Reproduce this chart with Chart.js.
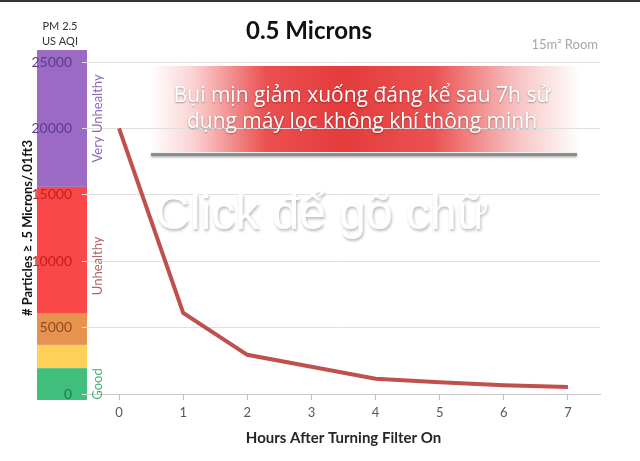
<!DOCTYPE html>
<html>
<head>
<meta charset="utf-8">
<script src="https://cdn.jsdelivr.net/npm/chart.js@4.4.1/dist/chart.umd.min.js"></script>
<style>
  html, body { margin: 0; padding: 0; background: #fff; }
  #wrap { width: 640px; height: 461px; position: relative; }
</style>
</head>
<body>
<div id="wrap"><canvas id="pmChart"></canvas></div>
<script>
// data
const hours = ['0', '1', '2', '3', '4', '5', '6', '7'];
const particles = [20000, 6100, 2950, 2050, 1150, 880, 660, 530];
const yTicks = [0, 5000, 10000, 15000, 20000, 25000];

// AQI colour bands on the left (edges in particle counts)
const aqiEdges = [-450, 1950, 3700, 6100, 15600, 25900];
const aqiColors = ['#3fbf7b', '#fdd157', '#e8924f', '#fa4747', '#9a6ac5'];
const aqiNames = ['Good', 'Unhealthy', 'Very Unhealthy'];
const aqiNameSpan = [[0, 1], [2, 4], [4, 5]];   // band edge indexes covered by each name
const aqiNameColors = ['#45b474', '#b5675f', '#8d68b8'];
const tickColors = ['#1f7f48', '#8e4c1c', '#c61f1f', '#c61f1f', '#5f3b8f', '#5f3b8f'];

const bannerLines = ['Bụi mịn giảm xuống đáng kể sau 7h sử', 'dụng máy lọc không khí thông minh'];

const FONT = 'Lato, "Open Sans", sans-serif';

const decorPlugin = {
    id: 'decor',
    beforeDraw(chart) {
        const { ctx, chartArea } = chart;
        const y = chart.scales.y;
        ctx.save();
        // dark strip at very top
        ctx.fillStyle = '#333';
        ctx.fillRect(0, 0, chart.width, 2);

        // AQI bands
        const bx = chartArea.left - 50;
        for (let i = 0; i < aqiColors.length; i++) {
            const top = y.getPixelForValue(aqiEdges[i + 1]);
            const bot = y.getPixelForValue(aqiEdges[i]);
            ctx.fillStyle = aqiColors[i];
            ctx.fillRect(bx, top, 50, bot - top);
        }

        // red banner
        const l = 150, r = 580, t = 66, b = 152;
        const g = ctx.createLinearGradient(l, 0, r, 0);
        g.addColorStop(0, 'rgba(255,255,255,1)');
        g.addColorStop(0.1, '#fbd3d3');
        g.addColorStop(0.27, '#eb5050');
        g.addColorStop(0.45, '#e53b3b');
        g.addColorStop(0.66, '#eb5252');
        g.addColorStop(0.86, '#f8c6c6');
        g.addColorStop(1, 'rgba(255,255,255,1)');
        ctx.fillStyle = g;
        ctx.fillRect(l, t, r - l, b - t);
        ctx.shadowColor = 'rgba(60,60,60,0.7)';
        ctx.shadowBlur = 3;
        ctx.shadowOffsetY = 1;
        ctx.fillStyle = 'rgba(120,120,120,0.75)';
        ctx.fillRect(l + 1, b + 1, r - l - 4, 3);
        ctx.restore();
    },
    afterDraw(chart) {
        const { ctx, chartArea } = chart;
        const y = chart.scales.y;
        ctx.save();

        // band names, rotated
        ctx.textAlign = 'center';
        ctx.textBaseline = 'middle';
        ctx.font = '13px ' + FONT;
        aqiNames.forEach((name, i) => {
            const [a, b] = aqiNameSpan[i];
            const cy = (y.getPixelForValue(aqiEdges[a]) + y.getPixelForValue(aqiEdges[b])) / 2;
            ctx.save();
            ctx.translate(chartArea.left + 11, cy);
            ctx.rotate(-Math.PI / 2);
            ctx.fillStyle = aqiNameColors[i];
            ctx.fillText(name, 0, 0);
            ctx.restore();
        });

        // title
        ctx.fillStyle = '#111';
        ctx.font = 'bold 24px ' + FONT;
        ctx.fillText('0.5 Microns', 309, 31);

        // PM 2.5 / US AQI
        ctx.font = '11px ' + FONT;
        ctx.fillStyle = '#333';
        ctx.fillText('PM 2.5', 60, 26);
        ctx.fillText('US AQI', 60, 41);

        // room note
        ctx.textAlign = 'right';
        ctx.fillStyle = '#a6a6a6';
        ctx.font = '13px ' + FONT;
        ctx.fillText('15m² Room', 598, 45);

        // banner text
        ctx.textAlign = 'center';
        ctx.font = '21px "Open Sans", sans-serif';
        ctx.fillStyle = '#fff';
        ctx.shadowColor = 'rgba(0,0,0,0.35)';
        ctx.shadowBlur = 2;
        ctx.shadowOffsetY = 1;
        ctx.fillText(bannerLines[0], 362, 96);
        ctx.fillText(bannerLines[1], 362, 122);

        // placeholder watermark
        ctx.font = '48px "Liberation Sans", Arial, sans-serif';
        ctx.shadowColor = 'rgba(0,0,0,0.28)';
        ctx.shadowBlur = 3;
        ctx.shadowOffsetX = 1;
        ctx.shadowOffsetY = 2;
        ctx.fillText('Click để gõ chữ', 322, 216);
        ctx.restore();
    }
};

new Chart(document.getElementById('pmChart'), {
    type: 'line',
    data: {
        labels: hours,
        datasets: [{
            data: particles,
            borderColor: '#c0504d',
            borderWidth: 4,
            pointRadius: 0,
            tension: 0,
            fill: false
        }]
    },
    options: {
        responsive: true,
        maintainAspectRatio: false,
        animation: false,
        layout: { padding: { left: 16, right: 40, top: 62, bottom: 11 } },
        plugins: {
            legend: { display: false },
            tooltip: { enabled: false }
        },
        scales: {
            x: {
                offset: true,
                afterFit: (s) => { s.height = 56; },
                grid: { drawOnChartArea: false, tickLength: 6, color: '#bfbfbf' },
                border: { color: '#c8c8c8' },
                ticks: { color: '#595959', font: { family: FONT, size: 13 }, padding: 5 },
                title: {
                    display: true,
                    text: 'Hours After Turning Filter On',
                    color: '#262626',
                    font: { family: FONT, size: 15, weight: 'bold' },
                    padding: { top: 4, bottom: 3 }
                }
            },
            y: {
                min: 0,
                max: 25000,
                afterFit: (s) => { s.width = 71; },
                afterBuildTicks: (s) => { s.ticks = yTicks.map(v => ({ value: v })); },
                grid: { color: '#e0e0e0', tickLength: 5 },
                border: { display: false },
                ticks: {
                    padding: 10,
                    font: { family: FONT, size: 14 },
                    color: (c) => tickColors[yTicks.indexOf(c.tick.value)] || '#333',
                    callback: (v) => String(v)
                },
                title: {
                    display: true,
                    text: '# Particles ≥ .5 Microns/.01ft3',
                    color: '#111',
                    font: { family: FONT, size: 13, weight: 'bold' },
                    padding: { top: 4, bottom: 4 }
                }
            }
        }
    },
    plugins: [decorPlugin]
});
</script>
</body>
</html>
